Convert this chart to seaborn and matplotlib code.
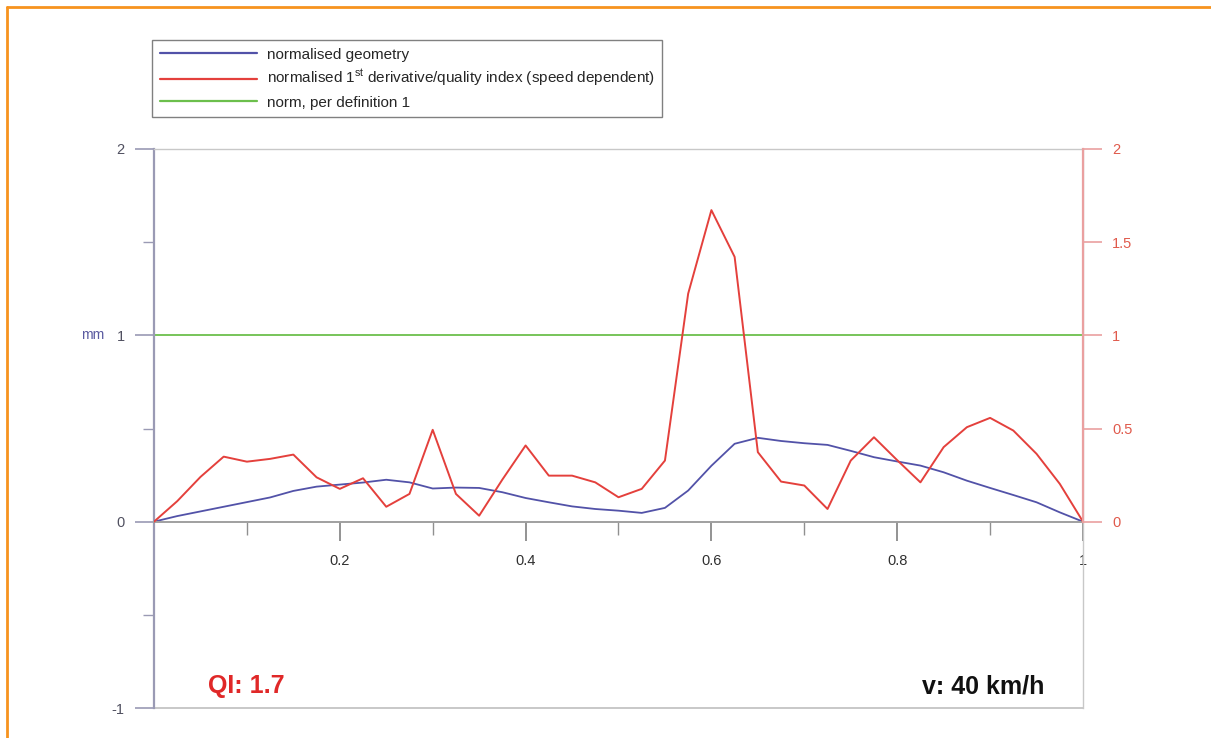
import numpy as np
import pandas as pd
import matplotlib
matplotlib.use("Agg")
import matplotlib.pyplot as plt
from matplotlib.lines import Line2D
from matplotlib.ticker import FixedLocator
import seaborn as sns

# Position along the section (normalised), sampled every 0.025
position = [0.000, 0.025, 0.050, 0.075, 0.100, 0.125, 0.150, 0.175, 0.200, 0.225,
            0.250, 0.275, 0.300, 0.325, 0.350, 0.375, 0.400, 0.425, 0.450, 0.475,
            0.500, 0.525, 0.550, 0.575, 0.600, 0.625, 0.650, 0.675, 0.700, 0.725,
            0.750, 0.775, 0.800, 0.825, 0.850, 0.875, 0.900, 0.925, 0.950, 0.975,
            1.000]

# Normalised geometry [mm]
geometry = [0.000, 0.030, 0.055, 0.080, 0.105, 0.130, 0.165, 0.188, 0.199, 0.210,
            0.225, 0.211, 0.178, 0.183, 0.181, 0.158, 0.127, 0.104, 0.082, 0.068,
            0.059, 0.047, 0.074, 0.167, 0.300, 0.418, 0.450, 0.433, 0.421, 0.412,
            0.380, 0.346, 0.323, 0.301, 0.265, 0.220, 0.181, 0.143, 0.104, 0.050,
            0.000]

# Normalised 1st derivative / quality index (speed dependent)
derivative = [0.000, 0.110, 0.240, 0.349, 0.322, 0.337, 0.360, 0.238, 0.176, 0.233,
              0.080, 0.149, 0.493, 0.149, 0.032, 0.226, 0.409, 0.247, 0.247, 0.211,
              0.131, 0.176, 0.328, 1.224, 1.672, 1.421, 0.373, 0.215, 0.194, 0.068,
              0.328, 0.453, 0.330, 0.211, 0.400, 0.507, 0.557, 0.489, 0.364, 0.203,
              0.000]

norm_level = 1.0
speed_kmh = 40

labels = ["normalised geometry",
          r"normalised 1$^{\mathrm{st}}$ derivative/quality index (speed dependent)",
          "norm, per definition 1"]

BLUE = "#5252a8"
RED = "#e4403c"
GREEN = "#6cbf4c"
FRAME = "#c8c8c8"
LEFT_SPINE = "#9a9ab4"
RIGHT_SPINE = "#eaa0a0"
ORANGE = "#f7931e"

sns.set_theme(style="white")
plt.rcParams["font.family"] = ["Liberation Sans", "DejaVu Sans"]
plt.rcParams["mathtext.fontset"] = "custom"
plt.rcParams["mathtext.rm"] = "Liberation Sans"

df = pd.DataFrame({"position": position, "geometry": geometry,
                   "derivative": derivative})

W, H = 1211, 738
fig = plt.figure(figsize=(W / 100, H / 100), dpi=100)
fig.patch.set_facecolor("white")

x0, x1 = 154, 1083
ytop, ybot = 149, 708
ax = fig.add_axes([x0 / W, 1 - ybot / H, (x1 - x0) / W, (ybot - ytop) / H])
ax.set_facecolor("white")

# left axis: geometry
sns.lineplot(data=df, x="position", y="geometry", ax=ax, color=BLUE,
             linewidth=1.3, legend=False)
ax.axhline(norm_level, color=GREEN, linewidth=1.3, zorder=2)

ax.set_xlim(0, 1)
ax.set_ylim(-1, 2)
ax.set_xlabel("")
ax.set_ylabel("")

for side in ["top", "right"]:
    ax.spines[side].set_color(FRAME)
    ax.spines[side].set_linewidth(1.0)
ax.spines["left"].set_color(LEFT_SPINE)
ax.spines["left"].set_linewidth(1.6)
ax.spines["bottom"].set_position(("data", 0))
ax.spines["bottom"].set_color("#a0a0a0")
ax.spines["bottom"].set_linewidth(1.4)
# bottom edge of the frame
ax.plot([0, 1], [-1, -1], transform=ax.transData, color=FRAME,
        linewidth=1.4, clip_on=False, zorder=1)

ax.yaxis.set_major_locator(FixedLocator([-1, 0, 1, 2]))
ax.yaxis.set_minor_locator(FixedLocator([-0.5, 0.5, 1.5]))
ax.xaxis.set_major_locator(FixedLocator([0.2, 0.4, 0.6, 0.8, 1.0]))
ax.xaxis.set_minor_locator(FixedLocator([0.1, 0.3, 0.5, 0.7, 0.9]))
ax.set_yticklabels(["-1", "0", "1", "2"])
ax.set_xticklabels(["0.2", "0.4", "0.6", "0.8", "1"])

ax.tick_params(axis="y", which="major", left=True, length=14, width=1.2,
               color=LEFT_SPINE, labelsize=10.5, labelcolor="#505060", pad=7)
ax.tick_params(axis="y", which="minor", left=True, length=8, width=1.0,
               color=LEFT_SPINE)
ax.tick_params(axis="x", which="major", bottom=True, length=14, width=1.2,
               color="#808080", labelsize=10.5, labelcolor="#303030", pad=9)
ax.tick_params(axis="x", which="minor", bottom=True, length=9, width=1.0,
               color="#909090")

ax.text(-0.078, 1, "mm", transform=ax.get_yaxis_transform(), ha="left",
        va="center", fontsize=10, color="#5a5aa0")

# right axis: derivative / quality index, same scale
ax2 = ax.twinx()
sns.lineplot(data=df, x="position", y="derivative", ax=ax2, color=RED,
             linewidth=1.4, legend=False)
ax2.set_ylim(-1, 2)
ax2.set_xlim(0, 1)
ax2.set_ylabel("")
ax2.set_xlabel("")
for side in ["top", "left", "bottom"]:
    ax2.spines[side].set_visible(False)
ax2.spines["right"].set_bounds(0, 2)
ax2.spines["right"].set_color(RIGHT_SPINE)
ax2.spines["right"].set_linewidth(1.6)
ax2.yaxis.set_major_locator(FixedLocator([0, 0.5, 1, 1.5, 2]))
ax2.set_yticklabels(["0", "0.5", "1", "1.5", "2"])
ax2.tick_params(axis="y", which="major", right=True, length=14, width=1.2,
                color=RIGHT_SPINE, labelsize=10.5, labelcolor="#e05a4c", pad=7)

qi = max(derivative)
ax.text(0.058, -0.92, f"QI: {qi:.1f}", fontsize=18, fontweight="bold",
        color="#e02828", ha="left", va="baseline")
ax.text(0.958, -0.92, f"v: {speed_kmh} km/h", fontsize=18, fontweight="bold",
        color="#111111", ha="right", va="baseline")

handles = [Line2D([], [], color=BLUE, linewidth=1.6),
           Line2D([], [], color=RED, linewidth=1.6),
           Line2D([], [], color=GREEN, linewidth=1.6)]
leg = fig.legend(handles, labels, loc="upper left",
                 bbox_to_anchor=(152 / W, 1 - 40 / H), bbox_transform=fig.transFigure,
                 fontsize=11, frameon=True, fancybox=False, borderaxespad=0,
                 handlelength=6.4, handletextpad=0.6, labelspacing=0.42,
                 borderpad=0.5)
leg.get_frame().set_edgecolor("#606060")
leg.get_frame().set_linewidth(1.0)

# orange page border (top and left edges)
fig.add_artist(Line2D([7 / W, 1.0], [1 - 7 / H, 1 - 7 / H],
                      transform=fig.transFigure, color=ORANGE, linewidth=2.0))
fig.add_artist(Line2D([7 / W, 7 / W], [0, 1 - 7 / H],
                      transform=fig.transFigure, color=ORANGE, linewidth=2.0))

fig.savefig("out.png", dpi=100, facecolor="white")
